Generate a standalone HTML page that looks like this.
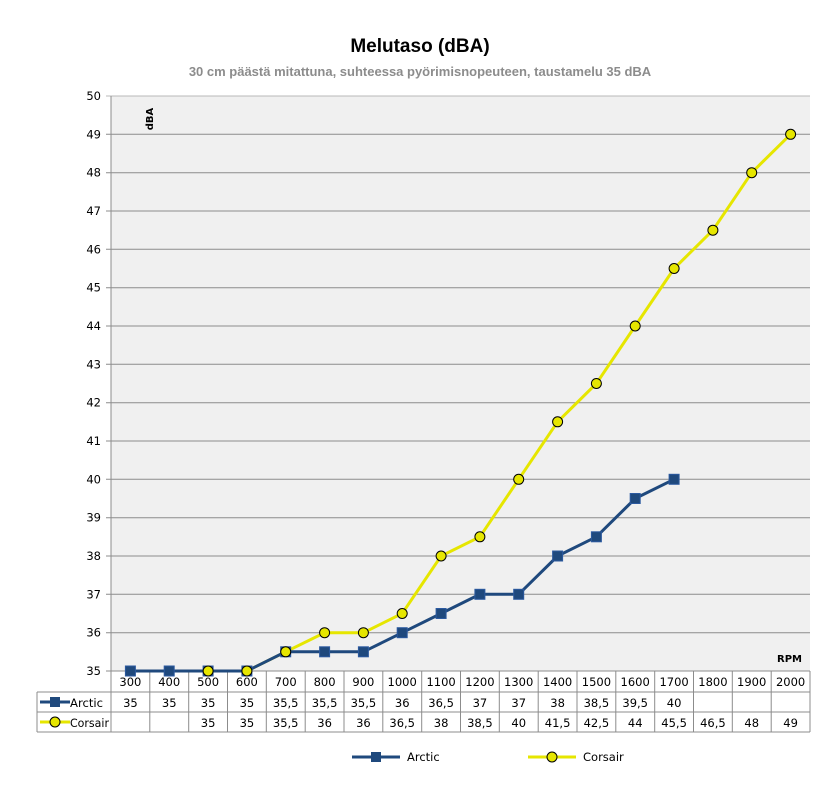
<!DOCTYPE html>
<html><head><meta charset="utf-8"><style>
body{margin:0;background:#fff;}
svg{display:block;font-family:"DejaVu Sans","Liberation Sans",sans-serif;}
</style></head><body>
<svg width="831" height="792" viewBox="0 0 831 792">
<text x="420" y="52" text-anchor="middle" font-size="19" font-weight="bold" font-family="Liberation Sans, sans-serif">Melutaso (dBA)</text>
<text x="420" y="76" text-anchor="middle" font-size="13" font-weight="bold" fill="#8c8c8c" font-family="Liberation Sans, sans-serif">30 cm päästä mitattuna, suhteessa pyörimisnopeuteen, taustamelu 35 dBA</text>
<rect x="111" y="96" width="699" height="575" fill="#f0f0f0"/>
<g stroke="#8c8c8c" stroke-width="1">
<line x1="106" y1="96" x2="810" y2="96" stroke="#b8b8b8"/>
<line x1="106" y1="134.3" x2="810" y2="134.3"/>
<line x1="106" y1="172.7" x2="810" y2="172.7"/>
<line x1="106" y1="211" x2="810" y2="211"/>
<line x1="106" y1="249.3" x2="810" y2="249.3"/>
<line x1="106" y1="287.7" x2="810" y2="287.7"/>
<line x1="106" y1="326" x2="810" y2="326"/>
<line x1="106" y1="364.3" x2="810" y2="364.3"/>
<line x1="106" y1="402.7" x2="810" y2="402.7"/>
<line x1="106" y1="441" x2="810" y2="441"/>
<line x1="106" y1="479.3" x2="810" y2="479.3"/>
<line x1="106" y1="517.7" x2="810" y2="517.7"/>
<line x1="106" y1="556" x2="810" y2="556"/>
<line x1="106" y1="594.3" x2="810" y2="594.3"/>
<line x1="106" y1="632.7" x2="810" y2="632.7"/>
<line x1="106" y1="671" x2="810" y2="671"/>
<line x1="111" y1="96" x2="111" y2="732"/>
</g>
<g font-size="11.5" text-anchor="end">
<text x="101" y="100">50</text><text x="101" y="138.3">49</text><text x="101" y="176.7">48</text><text x="101" y="215">47</text><text x="101" y="253.3">46</text><text x="101" y="291.7">45</text><text x="101" y="330">44</text><text x="101" y="368.3">43</text><text x="101" y="406.7">42</text><text x="101" y="445">41</text><text x="101" y="483.3">40</text><text x="101" y="521.7">39</text><text x="101" y="560">38</text><text x="101" y="598.3">37</text><text x="101" y="636.7">36</text><text x="101" y="675">35</text>
</g>
<text transform="translate(153,119) rotate(-90)" font-size="10" font-weight="bold" text-anchor="middle">dBA</text>
<text x="802" y="662" font-size="10" font-weight="bold" text-anchor="end">RPM</text>
<g stroke="#8c8c8c" stroke-width="1" fill="none">
<line x1="37" y1="692" x2="810" y2="692"/>
<line x1="37" y1="712" x2="810" y2="712"/>
<line x1="37" y1="732" x2="810" y2="732"/>
<line x1="37" y1="692" x2="37" y2="732"/>
<line x1="149.8" y1="671" x2="149.8" y2="732"/><line x1="188.7" y1="671" x2="188.7" y2="732"/><line x1="227.5" y1="671" x2="227.5" y2="732"/><line x1="266.3" y1="671" x2="266.3" y2="732"/><line x1="305.2" y1="671" x2="305.2" y2="732"/><line x1="344" y1="671" x2="344" y2="732"/><line x1="382.8" y1="671" x2="382.8" y2="732"/><line x1="421.7" y1="671" x2="421.7" y2="732"/><line x1="460.5" y1="671" x2="460.5" y2="732"/><line x1="499.3" y1="671" x2="499.3" y2="732"/><line x1="538.2" y1="671" x2="538.2" y2="732"/><line x1="577" y1="671" x2="577" y2="732"/><line x1="615.8" y1="671" x2="615.8" y2="732"/><line x1="654.7" y1="671" x2="654.7" y2="732"/><line x1="693.5" y1="671" x2="693.5" y2="732"/><line x1="732.3" y1="671" x2="732.3" y2="732"/><line x1="771.2" y1="671" x2="771.2" y2="732"/><line x1="810" y1="671" x2="810" y2="732"/>
</g>
<g font-size="11.5" text-anchor="middle">
<text x="130.4" y="686">300</text><text x="169.2" y="686">400</text><text x="208.1" y="686">500</text><text x="246.9" y="686">600</text><text x="285.7" y="686">700</text><text x="324.6" y="686">800</text><text x="363.4" y="686">900</text><text x="402.2" y="686">1000</text><text x="441.1" y="686">1100</text><text x="479.9" y="686">1200</text><text x="518.7" y="686">1300</text><text x="557.6" y="686">1400</text><text x="596.4" y="686">1500</text><text x="635.2" y="686">1600</text><text x="674.1" y="686">1700</text><text x="712.9" y="686">1800</text><text x="751.7" y="686">1900</text><text x="790.6" y="686">2000</text>
<text x="130.4" y="707">35</text><text x="169.2" y="707">35</text><text x="208.1" y="707">35</text><text x="246.9" y="707">35</text><text x="285.7" y="707">35,5</text><text x="324.6" y="707">35,5</text><text x="363.4" y="707">35,5</text><text x="402.2" y="707">36</text><text x="441.1" y="707">36,5</text><text x="479.9" y="707">37</text><text x="518.7" y="707">37</text><text x="557.6" y="707">38</text><text x="596.4" y="707">38,5</text><text x="635.2" y="707">39,5</text><text x="674.1" y="707">40</text>
<text x="208.1" y="727">35</text><text x="246.9" y="727">35</text><text x="285.7" y="727">35,5</text><text x="324.6" y="727">36</text><text x="363.4" y="727">36</text><text x="402.2" y="727">36,5</text><text x="441.1" y="727">38</text><text x="479.9" y="727">38,5</text><text x="518.7" y="727">40</text><text x="557.6" y="727">41,5</text><text x="596.4" y="727">42,5</text><text x="635.2" y="727">44</text><text x="674.1" y="727">45,5</text><text x="712.9" y="727">46,5</text><text x="751.7" y="727">48</text><text x="790.6" y="727">49</text>
</g>
<g font-size="11.5">
<line x1="40" y1="702" x2="70" y2="702" stroke="#1f497d" stroke-width="3"/><rect x="50" y="697" width="10" height="10" fill="#1f497d"/>
<text x="70" y="707" textLength="33" lengthAdjust="spacingAndGlyphs">Arctic</text>
<line x1="40" y1="722" x2="70" y2="722" stroke="#e6e600" stroke-width="3"/><circle cx="55" cy="722" r="5" fill="#e6e600" stroke="#000"/>
<text x="70" y="727" textLength="39" lengthAdjust="spacingAndGlyphs">Corsair</text>
</g>
<polyline fill="none" stroke="#e6e600" stroke-width="3" points="208.1,671 246.9,671 285.7,651.8 324.6,632.7 363.4,632.7 402.2,613.5 441.1,556 479.9,536.8 518.7,479.3 557.6,421.8 596.4,383.5 635.2,326 674.1,268.5 712.9,230.2 751.7,172.7 790.6,134.3"/>
<polyline fill="none" stroke="#1f497d" stroke-width="3" points="130.4,671 169.2,671 208.1,671 246.9,671 285.7,651.8 324.6,651.8 363.4,651.8 402.2,632.7 441.1,613.5 479.9,594.3 518.7,594.3 557.6,556 596.4,536.8 635.2,498.5 674.1,479.3"/>
<g fill="#1f497d" stroke="#2c5aa0" stroke-width="1">
<rect x="125.4" y="666" width="10" height="10"/><rect x="164.2" y="666" width="10" height="10"/><rect x="203.1" y="666" width="10" height="10"/><rect x="241.9" y="666" width="10" height="10"/><rect x="280.7" y="646.8" width="10" height="10"/><rect x="319.6" y="646.8" width="10" height="10"/><rect x="358.4" y="646.8" width="10" height="10"/><rect x="397.2" y="627.7" width="10" height="10"/><rect x="436.1" y="608.5" width="10" height="10"/><rect x="474.9" y="589.3" width="10" height="10"/><rect x="513.7" y="589.3" width="10" height="10"/><rect x="552.6" y="551" width="10" height="10"/><rect x="591.4" y="531.8" width="10" height="10"/><rect x="630.2" y="493.5" width="10" height="10"/><rect x="669.1" y="474.3" width="10" height="10"/>
</g>
<g fill="#e6e600" stroke="#000" stroke-width="1">
<circle cx="208.1" cy="671" r="5"/><circle cx="246.9" cy="671" r="5"/><circle cx="285.7" cy="651.8" r="5"/><circle cx="324.6" cy="632.7" r="5"/><circle cx="363.4" cy="632.7" r="5"/><circle cx="402.2" cy="613.5" r="5"/><circle cx="441.1" cy="556" r="5"/><circle cx="479.9" cy="536.8" r="5"/><circle cx="518.7" cy="479.3" r="5"/><circle cx="557.6" cy="421.8" r="5"/><circle cx="596.4" cy="383.5" r="5"/><circle cx="635.2" cy="326" r="5"/><circle cx="674.1" cy="268.5" r="5"/><circle cx="712.9" cy="230.2" r="5"/><circle cx="751.7" cy="172.7" r="5"/><circle cx="790.6" cy="134.3" r="5"/>
</g>
<g font-size="11.5">
<line x1="352" y1="757" x2="400" y2="757" stroke="#1f497d" stroke-width="3"/><rect x="371" y="752" width="10" height="10" fill="#1f497d"/>
<text x="407" y="761">Arctic</text>
<line x1="528" y1="757" x2="576" y2="757" stroke="#e6e600" stroke-width="3"/><circle cx="552" cy="757" r="5" fill="#e6e600" stroke="#000"/>
<text x="583" y="761">Corsair</text>
</g>
</svg>
</body></html>
